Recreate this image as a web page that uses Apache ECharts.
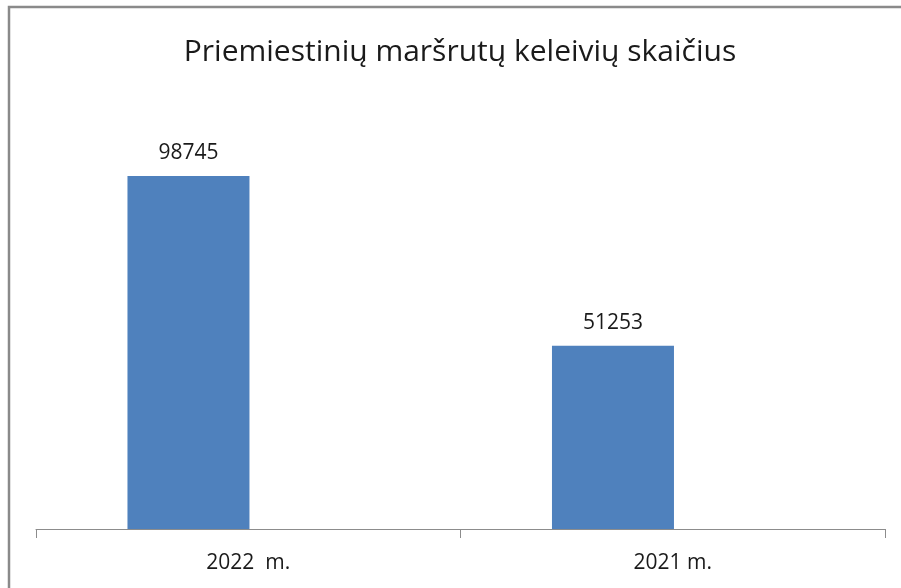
<!DOCTYPE html>
<html>
<head>
<meta charset="utf-8">
<script src="https://cdn.jsdelivr.net/npm/echarts@6/dist/echarts.min.js"></script>
<style>
  html, body { margin: 0; padding: 0; background: #fff; }
  #container { width: 901px; height: 588px; }
</style>
</head>
<body>
<div id="container"></div>
<script>
var categories = ['2022  m.', '2021 m.'];
var passengers = [98745, 51253];
// Excel left an empty second series, which pushes the real bars left of centre
var emptySeries = [null, null];

var dom = document.getElementById('container');
var myChart = echarts.init(dom, null, { renderer: 'canvas' });
var font = '"Open Sans", "Noto Sans", sans-serif';

var option = {
  backgroundColor: '#fff',
  animation: false,
  title: {
    text: 'Priemiestinių maršrutų keleivių skaičius',
    left: 455,
    textAlign: 'center',
    top: 32,
    textStyle: { fontFamily: font, fontSize: 30, fontWeight: 'normal', color: '#1a1a1a' }
  },
  graphic: [{
    type: 'rect',
    shape: { x: 9, y: 7, width: 900, height: 600 },
    style: { fill: 'none', stroke: '#8a8a8a', lineWidth: 2.5 },
    silent: true
  }],
  grid: { left: 36, right: 16, top: 100, bottom: 59 },
  xAxis: {
    type: 'category',
    data: categories,
    axisLine: { lineStyle: { color: '#8c8c8c', width: 1 } },
    axisTick: { show: true, length: 9, lineStyle: { color: '#8c8c8c' } },
    axisLabel: { fontFamily: font, fontSize: 21, color: '#1a1a1a', margin: 24 }
  },
  yAxis: {
    type: 'value',
    min: 0,
    max: 120000,
    show: false,
    splitLine: { show: false }
  },
  series: [{
    type: 'bar',
    data: passengers,
    barWidth: 122,
    barGap: '-2%',
    itemStyle: { color: '#4f81bd' },
    label: {
      show: true,
      position: 'top',
      distance: 12,
      fontFamily: font,
      fontSize: 21,
      color: '#1a1a1a'
    }
  }, {
    type: 'bar',
    data: emptySeries,
    barWidth: 122,
    itemStyle: { color: '#c0504d' }
  }]
};

myChart.setOption(option);
window.addEventListener('resize', myChart.resize);
</script>
</body>
</html>
